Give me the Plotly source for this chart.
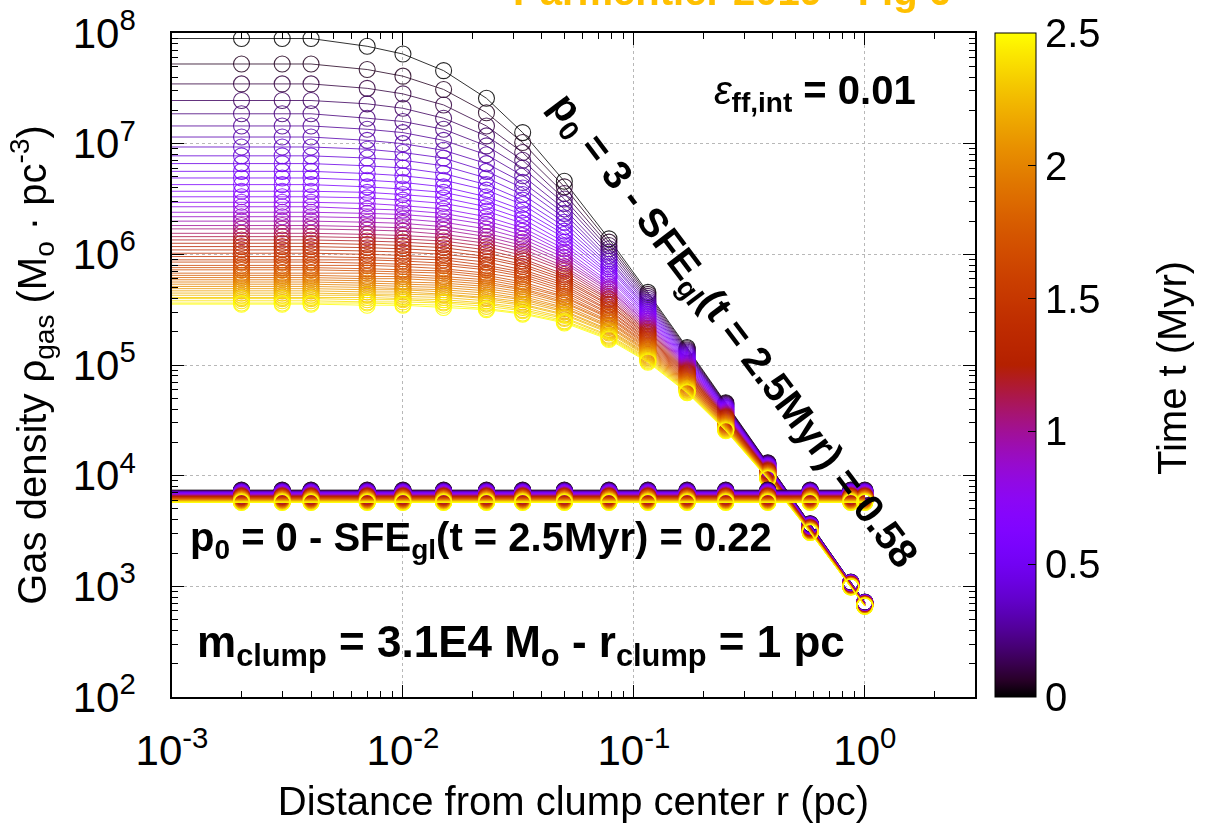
import math
import plotly.graph_objects as go

# ---------------- data ----------------
times_myr = [0.00, 0.05, 0.10, 0.15, 0.20, 0.25, 0.30, 0.35, 0.40, 0.45,
             0.50, 0.55, 0.60, 0.65, 0.70, 0.75, 0.80, 0.85, 0.90, 0.95,
             1.00, 1.05, 1.10, 1.15, 1.20, 1.25, 1.30, 1.35, 1.40, 1.45,
             1.50, 1.55, 1.60, 1.65, 1.70, 1.75, 1.80, 1.85, 1.90, 1.95,
             2.00, 2.05, 2.10, 2.15, 2.20, 2.25, 2.30, 2.35, 2.40, 2.45, 2.50]

# radii (pc) of the profile lines; markers sit on all of them except the first
line_radii_pc = [0.001, 0.002, 0.003, 0.004, 0.007, 0.010, 0.015, 0.023, 0.033,
                 0.050, 0.078, 0.115, 0.17, 0.25, 0.38, 0.58, 0.87, 1.0]
marker_radii_pc = line_radii_pc[1:]

# p0 = 3 clump: log10 gas density (Msun/pc^3) per radius, one value per time
logrho_p3_core = [7.95, 7.72, 7.54, 7.39, 7.27, 7.16, 7.06, 6.97, 6.89, 6.82,
                  6.75, 6.69, 6.63, 6.57, 6.52, 6.47, 6.43, 6.38, 6.34, 6.30,
                  6.26, 6.23, 6.19, 6.16, 6.13, 6.10, 6.07, 6.04, 6.01, 5.98,
                  5.95, 5.93, 5.90, 5.88, 5.86, 5.83, 5.81, 5.79, 5.77, 5.75,
                  5.73, 5.71, 5.69, 5.67, 5.65, 5.63, 5.61, 5.60, 5.58, 5.56, 5.55]
logrho_p3_r0007 = [7.88, 7.67, 7.50, 7.36, 7.23, 7.13, 7.03, 6.95, 6.87, 6.80,
                   6.73, 6.67, 6.61, 6.56, 6.51, 6.46, 6.41, 6.37, 6.33, 6.29,
                   6.25, 6.22, 6.18, 6.15, 6.12, 6.09, 6.06, 6.03, 6.00, 5.97,
                   5.95, 5.92, 5.90, 5.87, 5.85, 5.83, 5.80, 5.78, 5.76, 5.74,
                   5.72, 5.70, 5.68, 5.66, 5.64, 5.63, 5.61, 5.59, 5.57, 5.56, 5.54]
logrho_p3_r0010 = [7.81, 7.61, 7.45, 7.32, 7.20, 7.10, 7.00, 6.92, 6.85, 6.78,
                   6.71, 6.65, 6.59, 6.54, 6.49, 6.44, 6.40, 6.36, 6.32, 6.28,
                   6.24, 6.21, 6.17, 6.14, 6.11, 6.08, 6.05, 6.02, 5.99, 5.96,
                   5.94, 5.91, 5.89, 5.86, 5.84, 5.82, 5.80, 5.78, 5.75, 5.73,
                   5.71, 5.69, 5.68, 5.66, 5.64, 5.62, 5.60, 5.59, 5.57, 5.55, 5.54]
logrho_p3_r0015 = [7.66, 7.49, 7.35, 7.23, 7.13, 7.03, 6.94, 6.87, 6.80, 6.73,
                   6.67, 6.61, 6.56, 6.51, 6.46, 6.41, 6.37, 6.33, 6.29, 6.25,
                   6.22, 6.18, 6.15, 6.12, 6.09, 6.06, 6.03, 6.00, 5.97, 5.95,
                   5.92, 5.90, 5.87, 5.85, 5.83, 5.80, 5.78, 5.76, 5.74, 5.72,
                   5.70, 5.68, 5.66, 5.64, 5.63, 5.61, 5.59, 5.57, 5.56, 5.54, 5.52]
logrho_p3_r0023 = [7.41, 7.28, 7.16, 7.07, 6.98, 6.90, 6.82, 6.75, 6.69, 6.63,
                   6.58, 6.52, 6.48, 6.43, 6.39, 6.34, 6.30, 6.27, 6.23, 6.19,
                   6.16, 6.13, 6.10, 6.07, 6.04, 6.01, 5.98, 5.96, 5.93, 5.90,
                   5.88, 5.86, 5.83, 5.81, 5.79, 5.77, 5.75, 5.73, 5.71, 5.69,
                   5.67, 5.65, 5.63, 5.61, 5.60, 5.58, 5.56, 5.55, 5.53, 5.51, 5.50]
logrho_p3_r0033 = [7.10, 7.01, 6.92, 6.85, 6.78, 6.71, 6.65, 6.60, 6.54, 6.49,
                   6.45, 6.40, 6.36, 6.32, 6.28, 6.24, 6.21, 6.17, 6.14, 6.11,
                   6.08, 6.05, 6.02, 5.99, 5.96, 5.94, 5.91, 5.89, 5.86, 5.84,
                   5.82, 5.80, 5.78, 5.75, 5.73, 5.71, 5.69, 5.68, 5.66, 5.64,
                   5.62, 5.60, 5.59, 5.57, 5.55, 5.54, 5.52, 5.50, 5.49, 5.47, 5.46]
logrho_p3_r0050 = [6.66, 6.61, 6.55, 6.50, 6.46, 6.41, 6.37, 6.33, 6.29, 6.25,
                   6.21, 6.18, 6.15, 6.11, 6.08, 6.05, 6.02, 6.00, 5.97, 5.94,
                   5.92, 5.89, 5.87, 5.85, 5.82, 5.80, 5.78, 5.76, 5.74, 5.72,
                   5.70, 5.68, 5.66, 5.64, 5.62, 5.61, 5.59, 5.57, 5.56, 5.54,
                   5.52, 5.51, 5.49, 5.48, 5.46, 5.45, 5.43, 5.42, 5.40, 5.39, 5.38]
logrho_p3_r0078 = [6.14, 6.11, 6.08, 6.05, 6.02, 5.99, 5.96, 5.94, 5.91, 5.89,
                   5.87, 5.84, 5.82, 5.80, 5.78, 5.75, 5.73, 5.71, 5.69, 5.68,
                   5.66, 5.64, 5.62, 5.60, 5.59, 5.57, 5.55, 5.54, 5.52, 5.50,
                   5.49, 5.47, 5.46, 5.44, 5.43, 5.42, 5.40, 5.39, 5.38, 5.36,
                   5.35, 5.34, 5.32, 5.31, 5.30, 5.29, 5.27, 5.26, 5.25, 5.24, 5.23]
logrho_p3_r0115 = [5.656, 5.638, 5.620, 5.602, 5.585, 5.568, 5.552, 5.535, 5.519, 5.504,
                   5.488, 5.473, 5.458, 5.444, 5.429, 5.415, 5.401, 5.388, 5.374, 5.361,
                   5.348, 5.335, 5.322, 5.310, 5.297, 5.285, 5.273, 5.261, 5.250, 5.238,
                   5.227, 5.216, 5.205, 5.194, 5.183, 5.172, 5.162, 5.151, 5.141, 5.131,
                   5.121, 5.111, 5.101, 5.091, 5.082, 5.072, 5.063, 5.054, 5.044, 5.035, 5.026]
logrho_p3_r0170 = [5.157, 5.147, 5.136, 5.126, 5.116, 5.106, 5.097, 5.087, 5.077, 5.068,
                   5.059, 5.049, 5.040, 5.031, 5.022, 5.013, 5.004, 4.996, 4.987, 4.979,
                   4.970, 4.962, 4.954, 4.945, 4.937, 4.929, 4.921, 4.913, 4.905, 4.898,
                   4.890, 4.882, 4.875, 4.867, 4.860, 4.852, 4.845, 4.838, 4.831, 4.824,
                   4.817, 4.810, 4.803, 4.796, 4.789, 4.782, 4.775, 4.769, 4.762, 4.755, 4.749]
logrho_p3_r0250 = [4.659, 4.653, 4.647, 4.642, 4.636, 4.630, 4.625, 4.619, 4.613, 4.608,
                   4.602, 4.597, 4.591, 4.586, 4.581, 4.575, 4.570, 4.565, 4.559, 4.554,
                   4.549, 4.544, 4.539, 4.534, 4.529, 4.524, 4.519, 4.514, 4.509, 4.504,
                   4.499, 4.494, 4.489, 4.484, 4.480, 4.475, 4.470, 4.465, 4.461, 4.456,
                   4.451, 4.447, 4.442, 4.438, 4.433, 4.429, 4.424, 4.420, 4.415, 4.411, 4.406]
logrho_p3_r0380 = [4.116, 4.113, 4.110, 4.107, 4.104, 4.100, 4.097, 4.094, 4.091, 4.088,
                   4.085, 4.082, 4.079, 4.076, 4.073, 4.070, 4.067, 4.064, 4.061, 4.058,
                   4.055, 4.053, 4.050, 4.047, 4.044, 4.041, 4.038, 4.035, 4.032, 4.029,
                   4.027, 4.024, 4.021, 4.018, 4.016, 4.013, 4.010, 4.007, 4.004, 4.002,
                   3.999, 3.996, 3.994, 3.991, 3.988, 3.986, 3.983, 3.980, 3.977, 3.975, 3.972]
logrho_p3_r0580 = [3.566, 3.564, 3.563, 3.561, 3.559, 3.558, 3.556, 3.554, 3.553, 3.551,
                   3.549, 3.548, 3.546, 3.544, 3.543, 3.541, 3.539, 3.538, 3.536, 3.535,
                   3.533, 3.531, 3.530, 3.528, 3.527, 3.525, 3.523, 3.522, 3.520, 3.519,
                   3.517, 3.516, 3.514, 3.513, 3.511, 3.510, 3.508, 3.506, 3.505, 3.503,
                   3.502, 3.500, 3.499, 3.497, 3.496, 3.494, 3.493, 3.491, 3.490, 3.488, 3.486]
logrho_p3_r0870 = [3.038, 3.037, 3.036, 3.035, 3.034, 3.034, 3.033, 3.032, 3.031, 3.030,
                   3.029, 3.028, 3.027, 3.026, 3.025, 3.024, 3.024, 3.023, 3.022, 3.021,
                   3.020, 3.019, 3.018, 3.017, 3.016, 3.016, 3.015, 3.014, 3.013, 3.012,
                   3.011, 3.010, 3.010, 3.009, 3.008, 3.007, 3.006, 3.005, 3.004, 3.003,
                   3.002, 3.001, 3.000, 2.999, 2.998, 2.998, 2.997, 2.996, 2.995, 2.995, 2.994]
logrho_p3_r1000 = [2.857, 2.856, 2.856, 2.855, 2.854, 2.853, 2.853, 2.852, 2.851, 2.850,
                   2.850, 2.849, 2.848, 2.847, 2.847, 2.846, 2.845, 2.844, 2.844, 2.843,
                   2.842, 2.841, 2.841, 2.840, 2.839, 2.838, 2.838, 2.837, 2.836, 2.836,
                   2.835, 2.834, 2.833, 2.833, 2.832, 2.831, 2.830, 2.830, 2.829, 2.828,
                   2.828, 2.827, 2.826, 2.825, 2.825, 2.824, 2.823, 2.823, 2.822, 2.821, 2.821]

# p0 = 0 clump: uniform density, log10 value per time (same at every radius)
logrho_p0_uniform = [3.869, 3.867, 3.864, 3.862, 3.860, 3.857, 3.855, 3.853, 3.850, 3.848,
                     3.846, 3.844, 3.841, 3.839, 3.837, 3.835, 3.832, 3.830, 3.828, 3.825,
                     3.823, 3.821, 3.819, 3.816, 3.814, 3.812, 3.810, 3.808, 3.805, 3.803,
                     3.801, 3.799, 3.797, 3.794, 3.792, 3.790, 3.788, 3.786, 3.784, 3.782,
                     3.779, 3.777, 3.775, 3.773, 3.771, 3.769, 3.767, 3.765, 3.762, 3.760, 3.758]

x_tick_vals = [0.001, 0.01, 0.1, 1]
x_tick_text = ["10<sup>-3</sup>", "10<sup>-2</sup>", "10<sup>-1</sup>", "10<sup>0</sup>"]
y_tick_vals = [1e2, 1e3, 1e4, 1e5, 1e6, 1e7, 1e8]
y_tick_text = ["10<sup>2</sup>", "10<sup>3</sup>", "10<sup>4</sup>", "10<sup>5</sup>",
               "10<sup>6</sup>", "10<sup>7</sup>", "10<sup>8</sup>"]
cb_tick_vals = [0, 0.5, 1, 1.5, 2, 2.5]
cb_tick_text = ["0", "0.5", "1", "1.5", "2", "2.5"]

# ---------------- styling helpers ----------------
T_MAX = 2.5


def palette(t):
    """gnuplot default palette (rgbformulae 7,5,15)."""
    x = min(max(t / T_MAX, 0.0), 1.0)
    r = math.sqrt(x)
    g = x ** 3
    b = max(0.0, math.sin(2 * math.pi * x))
    return "rgb(%d,%d,%d)" % (round(255 * r), round(255 * g), round(255 * b))


colorscale = [[k / 40, palette(T_MAX * k / 40)] for k in range(41)]

p3_columns = [logrho_p3_core, logrho_p3_core, logrho_p3_core, logrho_p3_core,
              logrho_p3_r0007, logrho_p3_r0010, logrho_p3_r0015, logrho_p3_r0023,
              logrho_p3_r0033, logrho_p3_r0050, logrho_p3_r0078, logrho_p3_r0115,
              logrho_p3_r0170, logrho_p3_r0250, logrho_p3_r0380, logrho_p3_r0580,
              logrho_p3_r0870, logrho_p3_r1000]

FONT = "Liberation Sans, Arial, Helvetica, sans-serif"
MARKER_SIZE = 16

fig = go.Figure()


def add_profile(radii, logvals, color):
    rho = [10 ** v for v in logvals]
    fig.add_trace(go.Scatter(x=radii, y=rho, mode="lines",
                             line=dict(color=color, width=1), opacity=0.8,
                             showlegend=False, hoverinfo="skip"))
    fig.add_trace(go.Scatter(x=radii[1:], y=rho[1:], mode="markers",
                             marker=dict(symbol="circle-open", size=MARKER_SIZE,
                                         color=color, line=dict(width=1.1, color=color)),
                             opacity=0.85, showlegend=False, hoverinfo="skip"))


for j, t in enumerate(times_myr):
    add_profile(line_radii_pc, [col[j] for col in p3_columns], palette(t))

for j, t in enumerate(times_myr):
    add_profile(line_radii_pc, [logrho_p0_uniform[j]] * len(line_radii_pc), palette(t))

# colour bar
fig.add_trace(go.Scatter(
    x=[None], y=[None], mode="markers", showlegend=False, hoverinfo="skip",
    marker=dict(color=[0], cmin=0, cmax=T_MAX, colorscale=colorscale, showscale=True,
                colorbar=dict(x=1.0249, xanchor="left", y=0.5, yanchor="middle",
                              len=1, lenmode="fraction", thickness=41,
                              thicknessmode="pixels", xpad=0, ypad=0,
                              outlinewidth=1, outlinecolor="black",
                              tickmode="array", tickvals=cb_tick_vals, ticktext=cb_tick_text,
                              ticks="inside", ticklen=8, tickcolor="black",
                              tickfont=dict(size=40, family=FONT, color="black")))))

x_minor = [m * 10 ** e for e in (-3, -2, -1) for m in range(2, 10)] + [2, 3]
y_minor = [m * 10 ** e for e in range(2, 8) for m in range(2, 10)]

axis_common = dict(ticks="inside", ticklen=12, tickwidth=1, tickcolor="black",
                   mirror="allticks", showline=True, linecolor="black", linewidth=1.5,
                   showgrid=True, gridcolor="#b8b8b8", griddash="dot", gridwidth=1,
                   zeroline=False, automargin=False,
                   tickfont=dict(size=42, family=FONT, color="black"))

fig.update_xaxes(type="log", range=[-3, math.log10(3)], tickmode="array",
                 tickvals=x_tick_vals, ticktext=x_tick_text, ticklabelstandoff=16,
                 minor=dict(tickmode="array", tickvals=x_minor, ticks="inside", ticklen=6,
                            tickcolor="black", showgrid=False),
                 title=dict(text="Distance from clump center r (pc)",
                            font=dict(size=40, family=FONT, color="black"), standoff=14),
                 **axis_common)
fig.update_yaxes(type="log", range=[2, 8], tickmode="array",
                 tickvals=y_tick_vals, ticktext=y_tick_text, ticklabelstandoff=26,
                 minor=dict(tickmode="array", tickvals=y_minor, ticks="inside", ticklen=6,
                            tickcolor="black", showgrid=False),
                 title=dict(text="Gas density ρ<sub>gas</sub> (M<sub>o</sub> · pc<sup>-3</sup>)",
                            font=dict(size=40, family=FONT, color="black"), standoff=14),
                 **axis_common)

ann_font = dict(size=40, family=FONT, color="black")
fig.update_layout(
    width=1214, height=826,
    margin=dict(l=172, r=239, t=33, b=129, autoexpand=False),
    paper_bgcolor="white", plot_bgcolor="white",
    font=dict(family=FONT, color="black", size=40),
    showlegend=False,
    annotations=[
        dict(text="<b>Parmentier 2019 - Fig 6</b>", xref="paper", yref="paper",
             x=0.697, y=1.0633, xanchor="center", yanchor="middle", showarrow=False,
             font=dict(size=40, family=FONT, color="#ffc000")),
        dict(text="Time t (Myr)", xref="paper", yref="paper",
             x=1.2453, y=0.4955, xanchor="center", yanchor="middle", textangle=-90,
             showarrow=False, font=dict(size=40, family=FONT, color="black")),
        dict(text="<i>ε</i><sub><b>ff,int</b></sub><b> = 0.01</b>", xref="paper", yref="paper",
             x=0.929, y=0.9096, xanchor="right", yanchor="middle", showarrow=False,
             font=dict(size=40, family=FONT, color="black")),
        dict(text="<b>p<sub>0</sub> = 3 - SFE<sub>gl</sub>(t = 2.5Myr) = 0.58</b>",
             xref="paper", yref="paper", x=0.698, y=0.5497, textangle=53,
             xanchor="center", yanchor="middle", showarrow=False, font=ann_font),
        dict(text="<b>p<sub>0</sub> = 0 - SFE<sub>gl</sub>(t = 2.5Myr) = 0.22</b>",
             xref="paper", yref="paper", x=0.020, y=0.2364,
             xanchor="left", yanchor="middle", showarrow=False, font=ann_font),
        dict(text="<b>m<sub>clump</sub> = 3.1E4 M<sub>o</sub> - r<sub>clump</sub> = 1 pc</b>",
             xref="paper", yref="paper", x=0.0286, y=0.0783,
             xanchor="left", yanchor="middle", showarrow=False,
             font=dict(size=44, family=FONT, color="black")),
    ],
)

fig.write_html("out.html")
